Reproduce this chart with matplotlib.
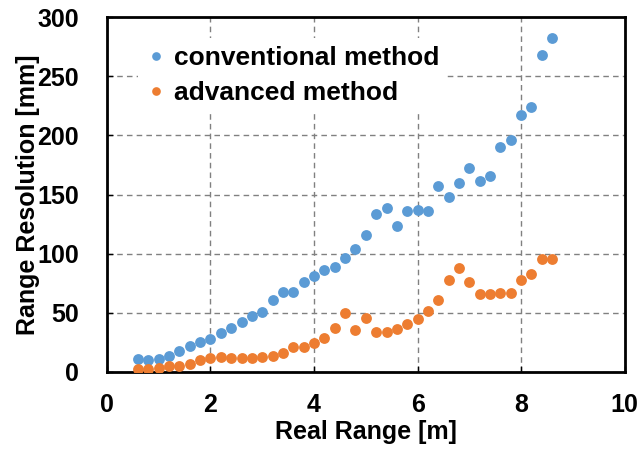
import matplotlib
matplotlib.use("Agg")
import matplotlib.pyplot as plt

plt.rcParams['font.family'] = ['Liberation Sans', 'DejaVu Sans']

# real range [m]
real_range = [0.6, 0.8, 1.0, 1.2, 1.4, 1.6, 1.8, 2.0, 2.2, 2.4, 2.6, 2.8, 3.0,
              3.2, 3.4, 3.6, 3.8, 4.0, 4.2, 4.4, 4.6, 4.8, 5.0, 5.2, 5.4, 5.6,
              5.8, 6.0, 6.2, 6.4, 6.6, 6.8, 7.0, 7.2, 7.4, 7.6, 7.8, 8.0, 8.2,
              8.4, 8.6]

# range resolution [mm]
conventional = [10.7, 10.1, 11.0, 13.5, 17.7, 22.0, 25.6, 28.1, 32.6, 37.2,
                42.2, 47.3, 50.7, 60.8, 67.3, 67.5, 76.0, 81.3, 85.8, 88.7,
                96.0, 104.1, 116.2, 133.7, 138.5, 123.0, 135.7, 137.3, 135.7,
                157.3, 147.8, 159.9, 172.8, 161.6, 165.8, 190.5, 196.2, 217.6,
                224.0, 268.0, 282.6]
advanced = [2.8, 2.3, 3.1, 5.1, 5.3, 7.0, 9.9, 12.1, 12.9, 12.1, 11.5, 11.8,
            12.7, 13.8, 16.3, 21.1, 21.4, 24.8, 29.0, 37.2, 49.8, 35.2, 45.3,
            33.8, 34.1, 36.0, 40.2, 44.5, 51.2, 60.5, 77.4, 88.1, 76.0, 65.6,
            65.6, 67.0, 66.7, 77.7, 82.7, 95.4, 95.7]

fig = plt.figure(figsize=(6.44, 4.49), dpi=100)
ax = fig.add_axes([0.166, 0.1715, 0.804, 0.7905])

ax.plot(real_range, conventional, 'o', color='#5B9BD5', markersize=7.8,
        markeredgewidth=0, label='conventional method', zorder=3)
ax.plot(real_range, advanced, 'o', color='#ED7D31', markersize=7.8,
        markeredgewidth=0, label='advanced method', zorder=3)

ax.set_xlim(0, 10)
ax.set_ylim(0, 300)
ax.set_xticks([0, 2, 4, 6, 8, 10])
ax.set_yticks([0, 50, 100, 150, 200, 250, 300])
ax.grid(True, linestyle=(0, (4, 3)), color='#808080', linewidth=1)
ax.set_axisbelow(True)
ax.tick_params(direction='in', length=4, width=1, labelsize=18)
ax.tick_params(axis='x', pad=15)
ax.tick_params(axis='y', pad=20)
for lab in ax.get_xticklabels() + ax.get_yticklabels():
    lab.set_fontweight('bold')
for sp in ax.spines.values():
    sp.set_linewidth(2)
    sp.set_color('black')

ax.set_xlabel('Real Range [m]', fontsize=18, fontweight='bold', labelpad=2)
ax.set_ylabel('Range Resolution [mm]', fontsize=18, fontweight='bold', labelpad=-2)

leg = ax.legend(loc='upper left', bbox_to_anchor=(0.06, 0.94), fontsize=19,
                frameon=True, framealpha=1, handletextpad=0.3,
                borderpad=0.3, labelspacing=0.42, handlelength=0.76,
                markerscale=0.8, borderaxespad=0)
leg.get_frame().set_edgecolor('none')
leg.get_frame().set_facecolor('white')
for t in leg.get_texts():
    t.set_fontweight('bold')

fig.savefig('out.png', dpi=100)
